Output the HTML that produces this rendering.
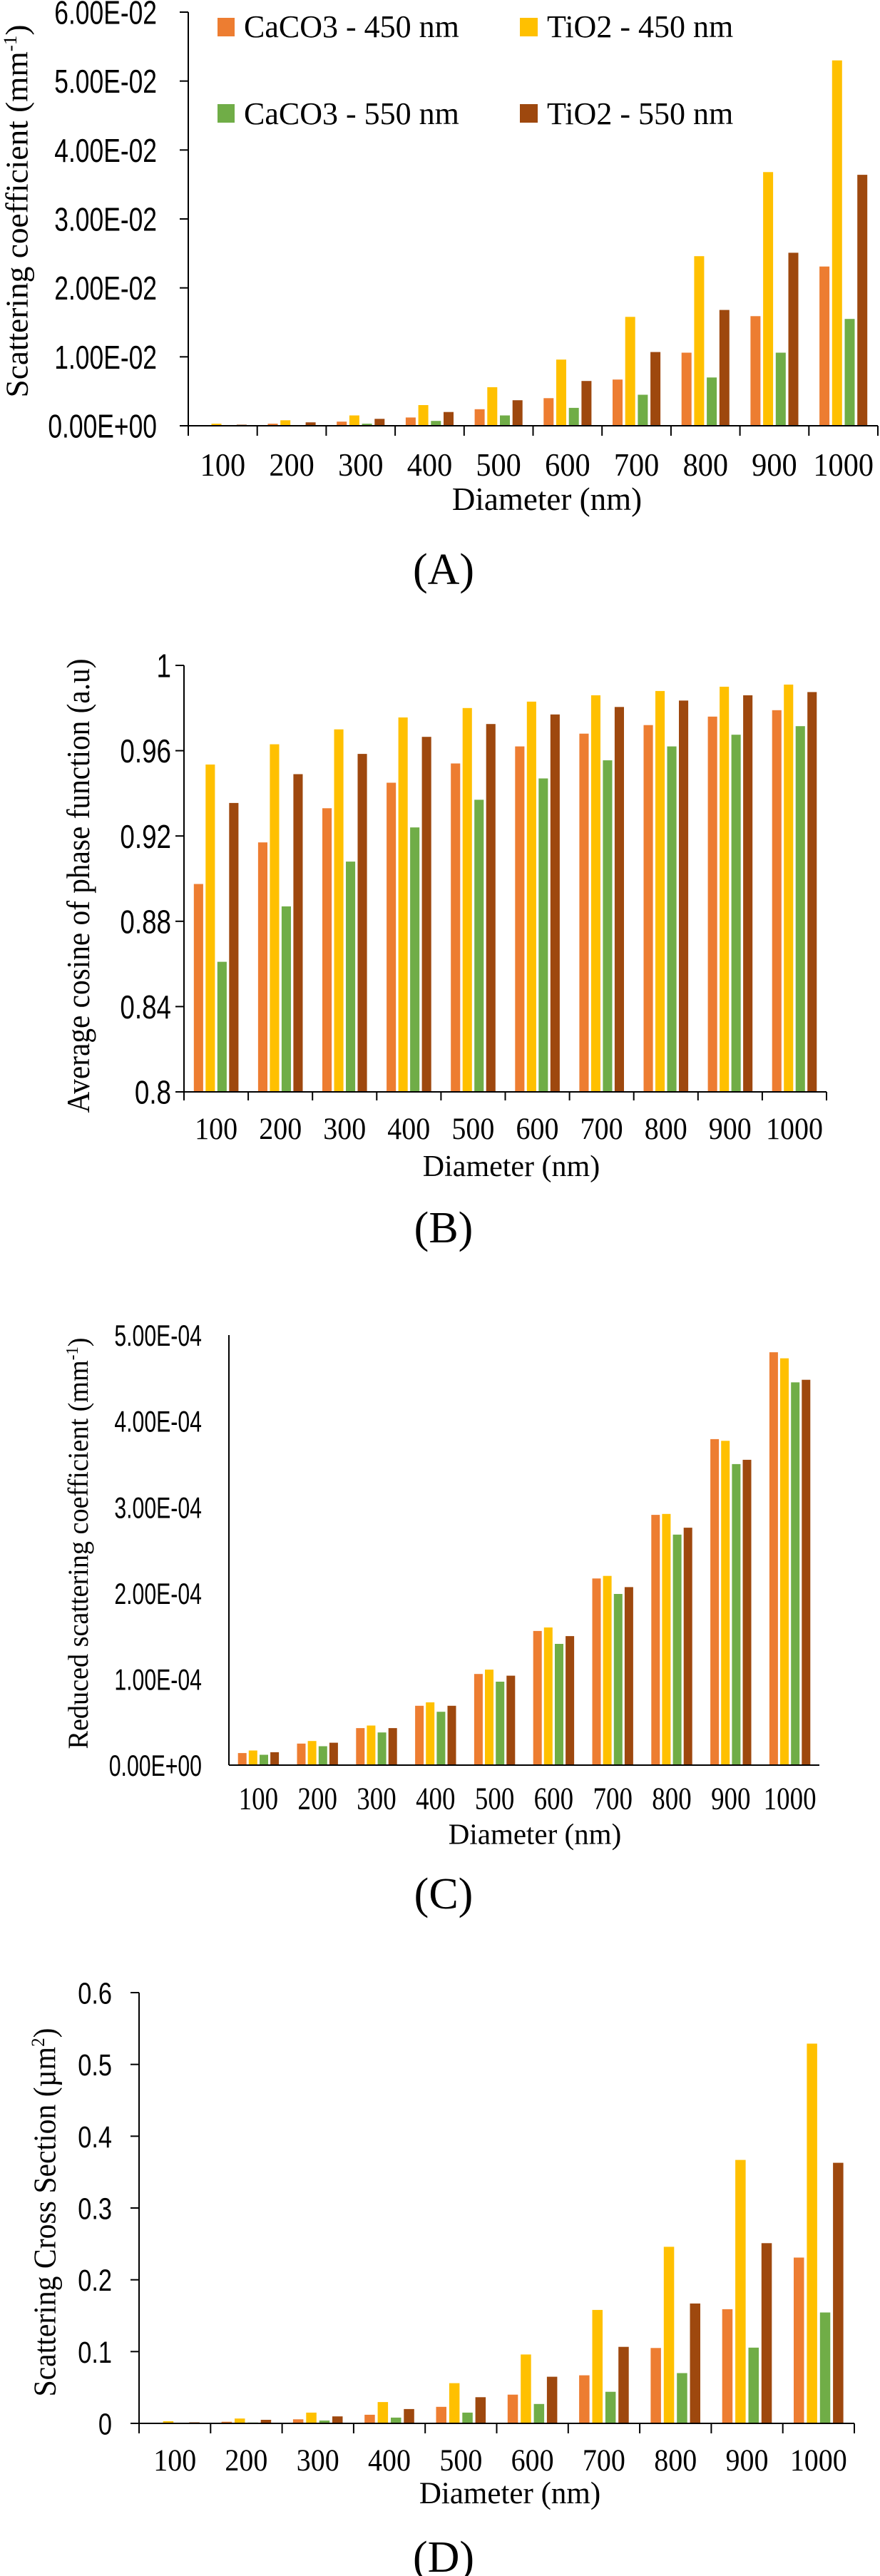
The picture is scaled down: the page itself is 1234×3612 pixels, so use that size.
<!DOCTYPE html>
<html><head><meta charset="utf-8">
<style>
html,body{margin:0;padding:0;background:#fff;}
svg{display:block;}
text{fill:#000;}
.sans{font-family:"Liberation Sans",sans-serif;}
.serif{font-family:"Liberation Serif",serif;}
</style></head>
<body>
<svg id="fig" width="1234" height="3612" viewBox="0 0 1234 3612" xmlns="http://www.w3.org/2000/svg">
  <g id="legend">
    <rect x="305" y="25" width="24" height="26" fill="#ED7D31"/>
    <text class="serif" x="342" y="52" font-size="44">CaCO3 - 450 nm</text>
    <rect x="729" y="25" width="25" height="26" fill="#FFC000"/>
    <text class="serif" x="767" y="52" font-size="44">TiO2 - 450 nm</text>
    <rect x="305" y="146" width="24" height="26" fill="#70AD47"/>
    <text class="serif" x="342" y="174" font-size="44">CaCO3 - 550 nm</text>
    <rect x="729" y="146" width="25" height="26" fill="#9E480E"/>
    <text class="serif" x="767" y="174" font-size="44">TiO2 - 550 nm</text>
  </g>
</svg>
<script>
// ---- shared categories ----
const categories = ["100","200","300","400","500","600","700","800","900","1000"];
const seriesNames = ["CaCO3 - 450 nm","TiO2 - 450 nm","CaCO3 - 550 nm","TiO2 - 550 nm"];
const seriesColors = ["#ED7D31","#FFC000","#70AD47","#9E480E"];

// ---- chart A: scattering coefficient ----
const aCaCO3_450 = [0.00005,0.0003,0.0006,0.0012,0.0024,0.0040,0.0067,0.0106,0.0159,0.0231];
const aTiO2_450  = [0.0003,0.0008,0.0015,0.0030,0.0056,0.0096,0.0158,0.0246,0.0368,0.0530];
const aCaCO3_550 = [0.00005,0.0001,0.0003,0.0007,0.0015,0.0026,0.0045,0.0070,0.0106,0.0155];
const aTiO2_550  = [0.00015,0.0005,0.0010,0.0020,0.0037,0.0065,0.0107,0.0168,0.0251,0.0364];
const aTicks = [0,0.01,0.02,0.03,0.04,0.05,0.06];
const aTickLabels = ["0.00E+00","1.00E-02","2.00E-02","3.00E-02","4.00E-02","5.00E-02","6.00E-02"];

// ---- chart B: average cosine ----
const bCaCO3_450 = [0.8975,0.917,0.933,0.945,0.954,0.962,0.968,0.972,0.976,0.979];
const bTiO2_450  = [0.9535,0.963,0.970,0.9756,0.980,0.983,0.986,0.988,0.990,0.991];
const bCaCO3_550 = [0.861,0.887,0.908,0.924,0.937,0.947,0.9555,0.962,0.9675,0.9715];
const bTiO2_550  = [0.9355,0.949,0.9585,0.9665,0.9725,0.977,0.9805,0.9835,0.986,0.9875];
const bTicks = [0.8,0.84,0.88,0.92,0.96,1.0];
const bTickLabels = ["0.8","0.84","0.88","0.92","0.96","1"];

// ---- chart C: reduced scattering coefficient ----
const cCaCO3_450 = [1.4e-5,2.5e-5,4.3e-5,6.9e-5,1.06e-4,1.56e-4,2.17e-4,2.91e-4,3.79e-4,4.80e-4];
const cTiO2_450  = [1.7e-5,2.8e-5,4.6e-5,7.3e-5,1.11e-4,1.60e-4,2.20e-4,2.92e-4,3.77e-4,4.73e-4];
const cCaCO3_550 = [1.2e-5,2.2e-5,3.8e-5,6.2e-5,9.7e-5,1.41e-4,1.99e-4,2.68e-4,3.50e-4,4.45e-4];
const cTiO2_550  = [1.5e-5,2.6e-5,4.3e-5,6.9e-5,1.04e-4,1.50e-4,2.07e-4,2.76e-4,3.55e-4,4.48e-4];
const cTicks = [0,1e-4,2e-4,3e-4,4e-4,5e-4];
const cTickLabels = ["0.00E+00","1.00E-04","2.00E-04","3.00E-04","4.00E-04","5.00E-04"];

// ---- chart D: scattering cross section ----
const dCaCO3_450 = [0.0005,0.0023,0.0057,0.012,0.023,0.040,0.067,0.105,0.159,0.231];
const dTiO2_450  = [0.003,0.0068,0.015,0.0297,0.056,0.096,0.158,0.246,0.367,0.529];
const dCaCO3_550 = [0.0005,0.0012,0.004,0.008,0.015,0.027,0.044,0.070,0.1055,0.1545];
const dTiO2_550  = [0.0015,0.005,0.0097,0.020,0.0365,0.065,0.1066,0.167,0.251,0.363];
const dTicks = [0,0.1,0.2,0.3,0.4,0.5,0.6];
const dTickLabels = ["0","0.1","0.2","0.3","0.4","0.5","0.6"];

const NS = "http://www.w3.org/2000/svg";
const fig = document.getElementById("fig");

function mk(tag, attrs, parent) {
  const e = document.createElementNS(NS, tag);
  for (const k in attrs) e.setAttribute(k, attrs[k]);
  parent.appendChild(e);
  return e;
}

function drawChart(id, cfg, series, ticks, tickLabels) {
  const g = mk("g", {}, fig);
  
  
  const yScale = v => cfg.y0 - (v - cfg.vmin) / (cfg.vmax - cfg.vmin) * (cfg.y0 - cfg.yTop);
  const cat = (cfg.xR - cfg.xL) / categories.length;
  const xScale = i => cfg.xL + i * cat;

  const pitch = cat * 0.183, bw = cat * 0.145;
  const groupW = pitch * 3 + bw;
  series.forEach((vals, s) => {
    vals.forEach((v, i) => {
      const x = xScale(i) + (cat - groupW) / 2 + s * pitch;
      const y = yScale(v);
      const r = mk("rect", {x: x.toFixed(1), y: y.toFixed(1), width: bw.toFixed(1), height: Math.max(0, cfg.y0 - y).toFixed(1), fill: seriesColors[s]}, g);
      
      
    });
  });

  const ya = mk("line", {x1: cfg.xL, y1: cfg.yTop, x2: cfg.xL, y2: cfg.y0 + (cfg.xTicks ? cfg.xTickLen : 0), stroke: "#000", "stroke-width": 2}, g);
  
  
  const xa = mk("line", {x1: cfg.xL - (cfg.yTicks ? 12 : 0), y1: cfg.y0, x2: cfg.xR, y2: cfg.y0, stroke: "#000", "stroke-width": 2}, g);
  
  

  ticks.forEach((t, i) => {
    const y = yScale(t);
    if (cfg.yTicks) {
      const tl = mk("line", {x1: cfg.xL - 12, y1: y, x2: cfg.xL, y2: y, stroke: "#000", "stroke-width": 2}, g);
      
      
    }
    const tx = mk("text", {class: "sans", "font-size": cfg.yFont, "text-anchor": "end",
      transform: "translate(" + cfg.yLabelX + "," + (y + cfg.yFont * 0.36).toFixed(1) + ") scale(" + cfg.ySx + ",1)"}, g);
    tx.textContent = tickLabels[i];
    
    
  });

  categories.forEach((c, i) => {
    if (cfg.xTicks) {
      const x = xScale(i + 1);
      const tl = mk("line", {x1: x, y1: cfg.y0, x2: x, y2: cfg.y0 + cfg.xTickLen, stroke: "#000", "stroke-width": 2}, g);
      
      
    }
    const cx = xScale(i) + cat / 2;
    const tx = mk("text", {class: "serif", "font-size": cfg.xFont, "text-anchor": "middle",
      transform: "translate(" + cx.toFixed(1) + "," + (cfg.xLabelY + cfg.xFont * 0.33).toFixed(1) + ") scale(" + cfg.xSx + ",1)"}, g);
    tx.textContent = c;
    
    
  });

  const xt = mk("text", {class: "serif", "font-size": cfg.xtFont, "text-anchor": "middle", x: cfg.xtX, y: cfg.xtY + cfg.xtFont * 0.33}, g);
  xt.textContent = "Diameter (nm)";
  
  

  const yt = mk("text", {class: "serif", "font-size": cfg.ytFont, "text-anchor": "middle",
    transform: "translate(" + cfg.ytX + "," + cfg.ytY + ") rotate(-90)", y: cfg.ytFont * 0.33,
    textLength: cfg.ytLen, lengthAdjust: "spacingAndGlyphs"}, g);
  
  
  yt.appendChild(document.createTextNode(cfg.ytText));
  if (cfg.ytSup) {
    const sp = mk("tspan", {"font-size": cfg.ytFont * 0.6, dy: -cfg.ytFont * 0.35}, yt);
    sp.textContent = cfg.ytSup;
    const sp2 = mk("tspan", {dy: cfg.ytFont * 0.35}, yt);
    sp2.textContent = ")";
  }

  const pl = mk("text", {class: "serif", "font-size": 62, "text-anchor": "middle", x: 622, y: cfg.panelY + 21}, g);
  pl.textContent = cfg.panel;
  
  
}

drawChart("chart-a", {xL:264, xR:1231, yTop:17, y0:597, vmin:0, vmax:0.06, yTicks:true, xTicks:true, xTickLen:14,
  yFont:46, ySx:0.77, yLabelX:220, xFont:46, xSx:0.92, xLabelY:652, xtFont:45, xtX:767, xtY:700,
  ytFont:44, ytX:24, ytY:296, ytLen:523, ytText:"Scattering coefficient (mm", ytSup:"-1", panel:"(A)", panelY:798},
  [aCaCO3_450, aTiO2_450, aCaCO3_550, aTiO2_550], aTicks, aTickLabels);

drawChart("chart-b", {xL:258, xR:1159, yTop:933, y0:1531, vmin:0.8, vmax:1.0, yTicks:true, xTicks:true, xTickLen:12,
  yFont:46, ySx:0.8, yLabelX:240, xFont:43, xSx:0.93, xLabelY:1583, xtFont:42, xtX:717, xtY:1635,
  ytFont:46, ytX:110, ytY:1242, ytLen:637, ytText:"Average cosine of phase function (a.u)", ytSup:"", panel:"(B)", panelY:1721},
  [bCaCO3_450, bTiO2_450, bCaCO3_550, bTiO2_550], bTicks, bTickLabels);

drawChart("chart-c", {xL:321, xR:1149, yTop:1872, y0:2475, vmin:0, vmax:5e-4, yTicks:false, xTicks:false, xTickLen:0,
  yFont:42, ySx:0.72, yLabelX:283, xFont:44, xSx:0.84, xLabelY:2522, xtFont:41, xtX:750, xtY:2572,
  ytFont:40, ytX:110, ytY:2164, ytLen:577, ytText:"Reduced scattering coefficient (mm", ytSup:"-1", panel:"(C)", panelY:2655},
  [cCaCO3_450, cTiO2_450, cCaCO3_550, cTiO2_550], cTicks, cTickLabels);

drawChart("chart-d", {xL:195, xR:1198, yTop:2794, y0:3398, vmin:0, vmax:0.6, yTicks:true, xTicks:true, xTickLen:14,
  yFont:43, ySx:0.8, yLabelX:157, xFont:43, xSx:0.93, xLabelY:3450, xtFont:43, xtX:715, xtY:3496,
  ytFont:44, ytX:63, ytY:3102, ytLen:517, ytText:"Scattering Cross Section (\u00b5m", ytSup:"2", panel:"(D)", panelY:3585},
  [dCaCO3_450, dTiO2_450, dCaCO3_550, dTiO2_550], dTicks, dTickLabels);
</script>
</body></html>
